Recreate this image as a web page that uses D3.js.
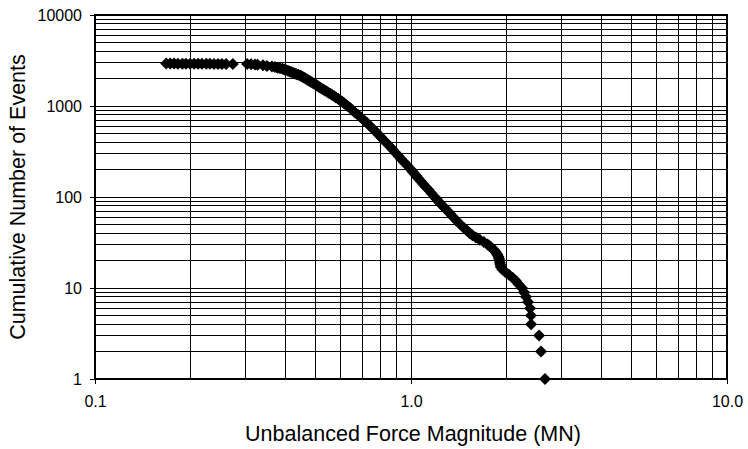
<!DOCTYPE html>
<html>
<head>
<meta charset="utf-8">
<script src="https://cdn.jsdelivr.net/npm/d3@7"></script>
<style>
  html, body { margin: 0; padding: 0; background: #fff; }
  svg { display: block; font-family: "Liberation Sans", Arial, sans-serif; }
</style>
</head>
<body>
<svg id="chart" width="748" height="449"></svg>
<script>
// Unbalanced force magnitude (MN) for each event, ascending
const force = [
  0.168, 0.173, 0.178, 0.183, 0.189, 0.194, 0.200, 0.206, 0.212, 0.218,
  0.225, 0.231, 0.238, 0.245, 0.252, 0.260, 0.273,
  0.303, 0.312, 0.321, 0.327, 0.340, 0.350, 0.363, 0.371, 0.378, 0.385,
  0.392, 0.397, 0.402, 0.408, 0.413, 0.418, 0.423, 0.429, 0.434, 0.440,
  0.446, 0.450, 0.455, 0.459, 0.464, 0.468, 0.473, 0.478, 0.483, 0.488,
  0.494, 0.499, 0.504, 0.510, 0.515, 0.521, 0.528, 0.534, 0.541, 0.548,
  0.556, 0.563, 0.572, 0.579, 0.588, 0.596, 0.605, 0.613, 0.621, 0.630,
  0.642, 0.653, 0.665, 0.679, 0.693, 0.708, 0.726, 0.743, 0.758, 0.774,
  0.791, 0.805, 0.820, 0.838, 0.858, 0.876, 0.898, 0.914, 0.932, 0.953,
  0.975, 0.999, 1.012, 1.026, 1.040, 1.055, 1.072, 1.091, 1.112, 1.136,
  1.160, 1.188, 1.203, 1.219, 1.238, 1.258, 1.281, 1.306, 1.332, 1.361,
  1.394, 1.433, 1.469, 1.501, 1.534, 1.565, 1.605, 1.650, 1.700, 1.748,
  1.771, 1.792, 1.812, 1.834, 1.850, 1.866, 1.878, 1.891, 1.900, 1.906,
  1.911, 1.918, 1.924, 1.946, 1.988, 2.041, 2.097, 2.146, 2.189, 2.245,
  2.278, 2.312, 2.346, 2.380, 2.397, 2.400, 2.542, 2.579, 2.655
];

// Cumulative number of events with force at or above each magnitude
const events = [
  2926, 2924, 2922, 2920, 2918, 2916, 2914, 2912, 2910, 2908,
  2906, 2904, 2902, 2900, 2898, 2896, 2894,
  2890, 2875, 2860, 2840, 2800, 2760, 2720, 2680, 2640, 2600,
  2560, 2520, 2480, 2440, 2400, 2360, 2320, 2280, 2240, 2200,
  2160, 2120, 2080, 2040, 2000, 1960, 1920, 1880, 1840, 1800,
  1760, 1720, 1680, 1640, 1600, 1560, 1520, 1480, 1440, 1400,
  1360, 1320, 1280, 1240, 1200, 1160, 1120, 1080, 1040, 1000,
  950, 900, 850, 800, 750, 700, 650, 600, 560, 520,
  480, 450, 420, 390, 360, 330, 300, 280, 260, 240,
  220, 200, 190, 180, 170, 160, 150, 140, 130, 120,
  110, 100, 95, 90, 85, 80, 75, 70, 65, 60,
  55, 50, 46, 43, 40, 38, 36, 34, 32, 30,
  29, 28, 27, 26, 25, 24, 23, 22, 21, 20,
  19, 18, 17, 16, 15, 14, 13, 12, 11, 10,
  9, 8, 7, 6, 5, 4, 3, 2, 1
];

// Axis tick values and labels
const xTicks = [0.1, 1, 10];
const xTickLabels = ["0.1", "1.0", "10.0"];
const yTicks = [1, 10, 100, 1000, 10000];
const yTickLabels = ["1", "10", "100", "1000", "10000"];

const xTitle = "Unbalanced Force Magnitude (MN)";
const yTitle = "Cumulative Number of Events";

const svg = d3.select("#chart");
const plotL = 95, plotR = 727, plotT = 15, plotB = 379;

const x = d3.scaleLog().domain([0.1, 10]).range([plotL, plotR]);
const y = d3.scaleLog().domain([1, 10000]).range([plotB, plotT]);

// Grid values: every integer multiple inside each decade
const xGrid = [], yGrid = [];
for (const d of [0.1, 1]) for (let k = 1; k <= 9; k++) xGrid.push(+(d * k).toFixed(3));
for (const d of [1, 10, 100, 1000]) for (let k = 1; k <= 9; k++) yGrid.push(d * k);

const grid = svg.append("g")
  .attr("stroke", "#000")
  .attr("stroke-width", 1)
  .attr("shape-rendering", "crispEdges");

grid.selectAll("line.gx")
  .data(xGrid.filter(v => v > 0.1))
  .join("line")
  .attr("class", "gx")
  .attr("x1", d => x(d)).attr("x2", d => x(d))
  .attr("y1", plotT).attr("y2", plotB);

grid.selectAll("line.gy")
  .data(yGrid.filter(v => v > 1))
  .join("line")
  .attr("class", "gy")
  .attr("x1", plotL).attr("x2", plotR)
  .attr("y1", d => y(d)).attr("y2", d => y(d));

// Plot frame
svg.append("rect")
  .attr("x", plotL).attr("y", plotT)
  .attr("width", plotR - plotL).attr("height", plotB - plotT)
  .attr("fill", "none")
  .attr("stroke", "#000")
  .attr("stroke-width", 2);

// Axes with outward major ticks
const xAxis = d3.axisBottom(x)
  .tickValues(xTicks)
  .tickSize(5)
  .tickPadding(12)
  .tickFormat((d, i) => xTickLabels[i]);

const yAxis = d3.axisLeft(y)
  .tickValues(yTicks)
  .tickSize(5)
  .tickPadding(8)
  .tickFormat((d, i) => yTickLabels[i]);

const gx = svg.append("g").attr("transform", `translate(0,${plotB})`).call(xAxis);
const gy = svg.append("g").attr("transform", `translate(${plotL},0)`).call(yAxis);

for (const g of [gx, gy]) {
  g.select(".domain").remove();
  g.selectAll(".tick line").attr("stroke", "#000").attr("stroke-width", 1);
  g.selectAll(".tick text")
    .attr("fill", "#000")
    .style("font-family", "'Liberation Sans', Arial, sans-serif")
    .style("font-size", "16px");
}

// Data markers (diamonds)
const pts = force.map((f, i) => ({ f, n: events[i] }));
svg.append("g")
  .selectAll("path")
  .data(pts)
  .join("path")
  .attr("transform", d => `translate(${x(d.f)},${y(d.n)})`)
  .attr("d", "M0,-6L6,0L0,6L-6,0Z")
  .attr("fill", "#000");

// Axis titles
svg.append("text")
  .attr("x", (plotL + plotR) / 2 + 2)
  .attr("y", 441)
  .attr("text-anchor", "middle")
  .style("font-size", "21.5px")
  .text(xTitle);

svg.append("text")
  .attr("transform", `translate(25,${(plotT + plotB) / 2}) rotate(-90)`)
  .attr("text-anchor", "middle")
  .style("font-size", "21.5px")
  .text(yTitle);
</script>
</body>
</html>
